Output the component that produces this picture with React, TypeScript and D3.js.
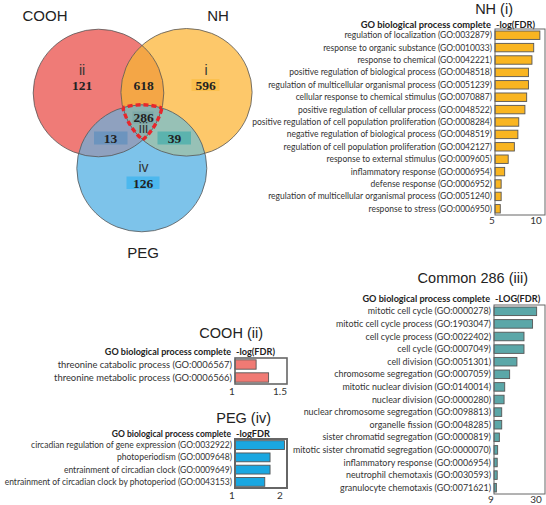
import React from "react";
import * as d3 from "d3";

// ---------------- DATA ----------------
const vennSets = ["COOH", "NH", "PEG"];
const vennRoman = ["ii", "i", "iii", "iv"];
const vennCounts = [121, 618, 596, 286, 13, 39, 126]; // COOH only, COOH∩NH, NH only, all, COOH∩PEG, NH∩PEG, PEG only

const nhTerms = [
  "regulation of localization (GO:0032879)",
  "response to organic substance (GO:0010033)",
  "response to chemical (GO:0042221)",
  "positive regulation of biological process (GO:0048518)",
  "regulation of multicellular organismal process (GO:0051239)",
  "cellular response to chemical stimulus (GO:0070887)",
  "positive regulation of cellular process (GO:0048522)",
  "positive regulation of cell population proliferation (GO:0008284)",
  "negative regulation of biological process (GO:0048519)",
  "regulation of cell population proliferation (GO:0042127)",
  "response to external stimulus (GO:0009605)",
  "inflammatory response (GO:0006954)",
  "defense response (GO:0006952)",
  "regulation of multicellular organismal process (GO:0051240)",
  "response to stress (GO:0006950)",
];
const nhValues = [10.1, 9.4, 9.2, 8.8, 8.8, 8.6, 8.4, 7.7, 7.6, 7.2, 6.5, 6.1, 5.7, 5.7, 5.6];
const nhTicks = [5, 10];

const commonTerms = [
  "mitotic cell cycle (GO:0000278)",
  "mitotic cell cycle process (GO:1903047)",
  "cell cycle process (GO:0022402)",
  "cell cycle (GO:0007049)",
  "cell division (GO:0051301)",
  "chromosome segregation (GO:0007059)",
  "mitotic nuclear division (GO:0140014)",
  "nuclear division (GO:0000280)",
  "nuclear chromosome segregation (GO:0098813)",
  "organelle fission (GO:0048285)",
  "sister chromatid segregation (GO:0000819)",
  "mitotic sister chromatid segregation (GO:0000070)",
  "inflammatory response (GO:0006954)",
  "neutrophil chemotaxis (GO:0030593)",
  "granulocyte chemotaxis (GO:0071621)",
];
const commonValues = [28.9, 27.0, 23.0, 23.0, 19.7, 16.3, 14.0, 13.7, 12.6, 12.6, 11.5, 10.7, 10.5, 10.5, 10.1];
const commonTicks = [9, 30];

const coohTerms = [
  "threonine catabolic process (GO:0006567)",
  "threonine metabolic process (GO:0006566)",
];
const coohValues = [1.22, 1.35];
const coohTicks = [1, 1.5];

const pegTerms = [
  "circadian regulation of gene expression (GO:0032922)",
  "photoperiodism (GO:0009648)",
  "entrainment of circadian clock (GO:0009649)",
  "entrainment of circadian clock by photoperiod (GO:0043153)",
];
const pegValues = [2.03, 1.73, 1.73, 1.62];
const pegTicks = [1, 2];

// ---------------- STYLE ----------------
const LABEL_FONT = "Lato, 'Open Sans', sans-serif";
const TITLE_FONT = "'Liberation Sans', Arial, sans-serif";

type PanelProps = {
  terms: string[];
  values: number[];
  ticks: number[];
  left: number;
  tickEnd: number;
  right: number;
  top: number;
  bottom: number;
  fill: string;
  header: string;
  title: string;
  titleX: number;
  titleY: number;
  headerY: number;
  tickY: number;
  pad: number;
  boxStroke?: number;
  fontSize?: number;
  headerSize?: number;
};

function BarPanel(p: PanelProps) {
  const x = d3.scaleLinear().domain([p.ticks[0], p.ticks[p.ticks.length - 1]]).range([p.left, p.tickEnd]);
  const y = d3.scaleBand<string>().domain(p.terms).range([p.top, p.bottom]).paddingInner(p.pad).paddingOuter(p.pad / 2);
  const fs = p.fontSize ?? 9;
  const hs = p.headerSize ?? 9;
  return (
    <g>
      <text x={p.titleX} y={p.titleY} textAnchor="end" fontFamily={TITLE_FONT} fontSize={14.5} fill="#222">
        {p.title}
      </text>
      <text x={p.left - 4} y={p.headerY} textAnchor="end" fontFamily={LABEL_FONT} fontWeight="bold" fontSize={hs} fill="#222">
        GO biological process complete
      </text>
      <text x={p.left + 1} y={p.headerY} textAnchor="start" fontFamily={LABEL_FONT} fontWeight="bold" fontSize={9.2} fill="#222">
        {p.header}
      </text>
      {p.terms.map((t, i) => (
        <g key={t + i}>
          <text
            x={p.left - 3}
            y={(y(t) ?? 0) + y.bandwidth() / 2}
            dy="0.35em"
            textAnchor="end"
            fontFamily={LABEL_FONT}
            fontSize={fs}
            fill="#333"
          >
            {t}
          </text>
          <rect
            x={x(p.ticks[0])}
            y={y(t)}
            width={Math.max(0, x(p.values[i]) - x(p.ticks[0]))}
            height={y.bandwidth()}
            fill={p.fill}
            stroke="#555"
            strokeWidth={0.9}
          />
        </g>
      ))}
      <rect x={p.left} y={p.top} width={p.right - p.left} height={p.bottom - p.top} fill="none" stroke="#666" strokeWidth={p.boxStroke ?? 1} />
      {p.ticks.map((tk) => (
        <text key={tk} x={x(tk) - 3} y={p.tickY} textAnchor="middle" fontFamily={LABEL_FONT} fontSize={10} fill="#333">
          {tk}
        </text>
      ))}
    </g>
  );
}

function Venn() {
  const red = { cx: 98.5, cy: 93, rx: 65.3, ry: 63.8 };
  const org = { cx: 186.5, cy: 92.3, rx: 65.6, ry: 63.8 };
  const blu = { cx: 141.8, cy: 168.3, rx: 65, ry: 63.5 };
  const E = (c: any, props: any = {}) => <ellipse cx={c.cx} cy={c.cy} rx={c.rx} ry={c.ry} {...props} />;
  const numStyle = { fontFamily: "'Liberation Serif', 'Times New Roman', serif", fontWeight: "bold" as const, fontSize: 13.5, fill: "#222", textAnchor: "middle" as const };
  const romStyle = { fontFamily: TITLE_FONT, fontSize: 14, fill: "#333", textAnchor: "middle" as const };
  const dash = { fill: "none", stroke: "#E8262B", strokeWidth: 3.4, strokeDasharray: "5 3" };
  return (
    <g>
      <defs>
        <clipPath id="cR">{E(red)}</clipPath>
        <clipPath id="cO">{E(org)}</clipPath>
        <clipPath id="cB">{E(blu)}</clipPath>
      </defs>
      {E(red, { fill: "#EF7B77" })}
      {E(org, { fill: "#FDC86A" })}
      {E(blu, { fill: "#7DC3EA" })}
      <g clipPath="url(#cR)">{E(org, { fill: "#F4A646" })}</g>
      <g clipPath="url(#cR)">{E(blu, { fill: "#8FA1BF" })}</g>
      <g clipPath="url(#cO)">{E(blu, { fill: "#97C1B6" })}</g>
      <g clipPath="url(#cR)">
        <g clipPath="url(#cO)">{E(blu, { fill: "#8BB1AE" })}</g>
      </g>
      {E(red, { fill: "none", stroke: "#555", strokeWidth: 0.8 })}
      {E(org, { fill: "none", stroke: "#555", strokeWidth: 0.8 })}
      {E(blu, { fill: "none", stroke: "#555", strokeWidth: 0.8 })}
      {/* highlight boxes */}
      <rect x={191.5} y={79} width={28} height={12} fill="#FBC04E" />
      <rect x={132.5} y={111.5} width={21} height={12} fill="#7DA9A8" />
      <rect x={94} y={131.5} width={33.5} height={13} fill="#6C94BE" />
      <rect x={157.5} y={131.5} width={33.5} height={13} fill="#5BB3AE" />
      <rect x={126.5} y={176.5} width={33} height={12.5} fill="#4CB8EE" />
      {/* dashed triple region */}
      <g clipPath="url(#cR)">
        <g clipPath="url(#cO)">{E(blu, dash)}</g>
      </g>
      <g clipPath="url(#cO)">
        <g clipPath="url(#cB)">{E(red, dash)}</g>
      </g>
      <g clipPath="url(#cR)">
        <g clipPath="url(#cB)">{E(org, dash)}</g>
      </g>
      {/* set labels */}
      <text x={45} y={21} {...romStyle} fontSize={15} fill="#222">{vennSets[0]}</text>
      <text x={218} y={21} {...romStyle} fontSize={15} fill="#222">{vennSets[1]}</text>
      <text x={143} y={258} {...romStyle} fontSize={15} fill="#222">{vennSets[2]}</text>
      {/* roman numerals */}
      <text x={82} y={75} {...romStyle}>{vennRoman[0]}</text>
      <text x={206} y={75} {...romStyle}>{vennRoman[1]}</text>
      <text x={143.5} y={133} {...romStyle}>{vennRoman[2]}</text>
      <text x={143.5} y={172} {...romStyle}>{vennRoman[3]}</text>
      {/* counts */}
      <text x={82} y={90} {...numStyle}>{vennCounts[0]}</text>
      <text x={143.5} y={90} {...numStyle}>{vennCounts[1]}</text>
      <text x={205.5} y={90} {...numStyle}>{vennCounts[2]}</text>
      <text x={143.5} y={122} {...numStyle}>{vennCounts[3]}</text>
      <text x={110.5} y={143} {...numStyle}>{vennCounts[4]}</text>
      <text x={174.5} y={143} {...numStyle}>{vennCounts[5]}</text>
      <text x={143} y={187.5} {...numStyle}>{vennCounts[6]}</text>
    </g>
  );
}

export default function App() {
  return (
    <svg width={546} height={505} style={{ position: "absolute", left: 0, top: 0, background: "#fff" }}>
      <rect width={546} height={505} fill="#fff" />
      <Venn />
      <BarPanel
        terms={nhTerms}
        values={nhValues}
        ticks={nhTicks}
        left={495}
        tickEnd={539}
        right={545}
        top={29}
        bottom={215}
        fill="#F9B521"
        header="-log(FDR)"
        title="NH  (i)"
        titleX={513}
        titleY={14}
        headerY={28}
        tickY={224}
        pad={0.32}
        fontSize={8.5}
        headerSize={9.3}
      />
      <BarPanel
        terms={commonTerms}
        values={commonValues}
        ticks={commonTicks}
        left={494}
        tickEnd={539}
        right={545}
        top={305}
        bottom={494}
        fill="#5BA7A8"
        header="-LOG(FDR)"
        title="Common 286  (iii)"
        titleX={528}
        titleY={283}
        headerY={302}
        tickY={503}
        pad={0.32}
        fontSize={8.9}
        headerSize={9.1}
      />
      <BarPanel
        terms={coohTerms}
        values={coohValues}
        ticks={coohTicks}
        left={235}
        tickEnd={283}
        right={287}
        top={358}
        bottom={384}
        fill="#F07A74"
        header="-log(FDR)"
        title="COOH (ii)"
        titleX={263}
        titleY={338}
        headerY={355}
        tickY={395}
        pad={0.28}
        boxStroke={1.6}
        fontSize={9.4}
        headerSize={9.0}
      />
      <BarPanel
        terms={pegTerms}
        values={pegValues}
        ticks={pegTicks}
        left={235}
        tickEnd={283}
        right={287}
        top={439}
        bottom={488}
        fill="#1AA7E1"
        header="-logFDR"
        title="PEG  (iv)"
        titleX={271}
        titleY={423}
        headerY={437}
        tickY={499}
        pad={0.28}
        boxStroke={2}
        fontSize={8.5}
        headerSize={8.5}
      />
    </svg>
  );
}
